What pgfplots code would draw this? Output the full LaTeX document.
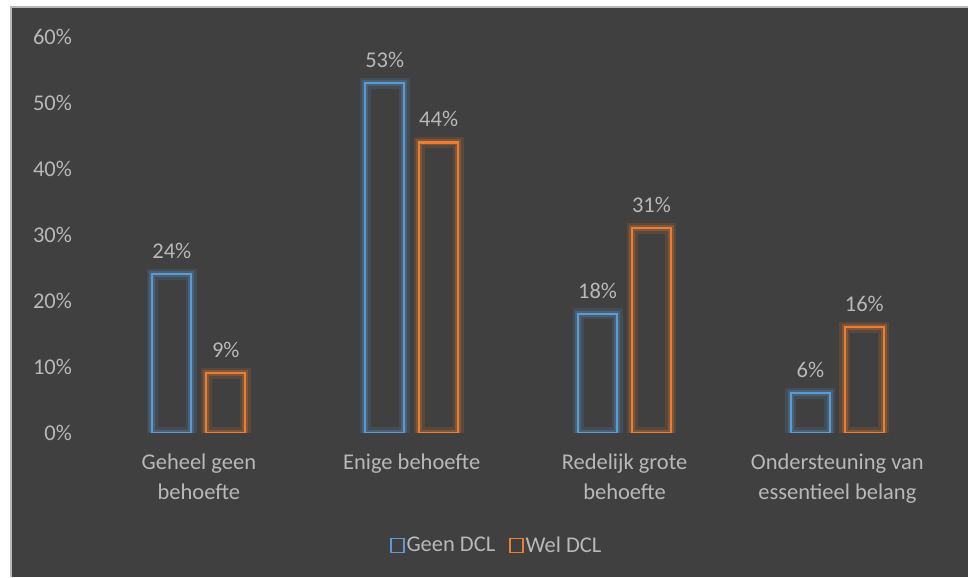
\documentclass[border=0pt]{standalone}
\usepackage{pgfplots}
\pgfplotsset{compat=1.18}
\usepackage{fontspec}
\setmainfont{Carlito}
\definecolor{bg}{HTML}{404040}
\definecolor{txt}{HTML}{B8B8B8}
\definecolor{cblue}{HTML}{5B9BD5}
\definecolor{corange}{HTML}{ED7D31}

\begin{document}
\begin{tikzpicture}[x=1pt,y=1pt]
\fill[white] (0,0) rectangle (969,577);
\fill[bg] (11,0) rectangle (969,570);
\draw[gray!55, line width=1.5pt] (11,0) -- (11,570) -- (969,570);
\begin{axis}[
  at={(92.5pt,144pt)}, anchor=south west,
  scale only axis, width=852pt, height=396pt,
  xmin=-0.5, xmax=3.5, ymin=0, ymax=60,
  axis line style={draw=none}, major tick length=0pt,
  /pgf/number format/assume math mode=true,
  font=\fontsize{22.5}{30}\selectfont,
  ticklabel style={text=txt},
  ytick={0,10,...,60},
  yticklabel={\pgfmathprintnumber{\tick}\%},
  yticklabel style={anchor=east, xshift=-17pt},
  xtick={0,1,2,3},
  xticklabels={{Geheel geen\\behoefte},{Enige behoefte},{Redelijk grote\\behoefte},{Ondersteuning van\\essentieel belang}},
  xticklabel style={align=center, anchor=north, yshift=-18pt},
  legend columns=2,
  legend style={at={(0.475,-0.285)}, anchor=center, draw=none, fill=none, text=txt,
    /tikz/every even column/.append style={column sep=12pt}},
]
% soft glow behind the outlines (two layers)
\addplot[ybar, bar width=39pt, bar shift=-27pt, draw=cblue, draw opacity=0.15, fill=none,
  line width=11pt, forget plot] coordinates {(0,24) (1,53) (2,18) (3,6)};
\addplot[ybar, bar width=39pt, bar shift=27pt, draw=corange, draw opacity=0.15, fill=none,
  line width=11pt, forget plot] coordinates {(0,9) (1,44) (2,31) (3,16)};
\addplot[ybar, bar width=39pt, bar shift=-27pt, draw=cblue, draw opacity=0.25, fill=none,
  line width=6pt, forget plot] coordinates {(0,24) (1,53) (2,18) (3,6)};
\addplot[ybar, bar width=39pt, bar shift=27pt, draw=corange, draw opacity=0.25, fill=none,
  line width=6pt, forget plot] coordinates {(0,9) (1,44) (2,31) (3,16)};
% bars
\addplot[ybar, bar width=39pt, bar shift=-27pt, draw=cblue, fill=none, line width=2.2pt,
  nodes near coords={\pgfmathprintnumber{\pgfplotspointmeta}\%},
  nodes near coords style={text=txt, anchor=south, yshift=11pt, xshift=-27pt},
  legend image code/.code={\draw[cblue, line width=1.3pt] (0pt,-7pt) rectangle (13pt,7pt);}]
  coordinates {(0,24) (1,53) (2,18) (3,6)};
\addlegendentry{Geen DCL}
\addplot[ybar, bar width=39pt, bar shift=27pt, draw=corange, fill=none, line width=2.2pt,
  nodes near coords={\pgfmathprintnumber{\pgfplotspointmeta}\%},
  nodes near coords style={text=txt, anchor=south, yshift=11pt, xshift=27pt},
  legend image code/.code={\draw[corange, line width=1.3pt] (0pt,-7pt) rectangle (13pt,7pt);}]
  coordinates {(0,9) (1,44) (2,31) (3,16)};
\addlegendentry{Wel DCL}
\end{axis}
\end{tikzpicture}
\end{document}
